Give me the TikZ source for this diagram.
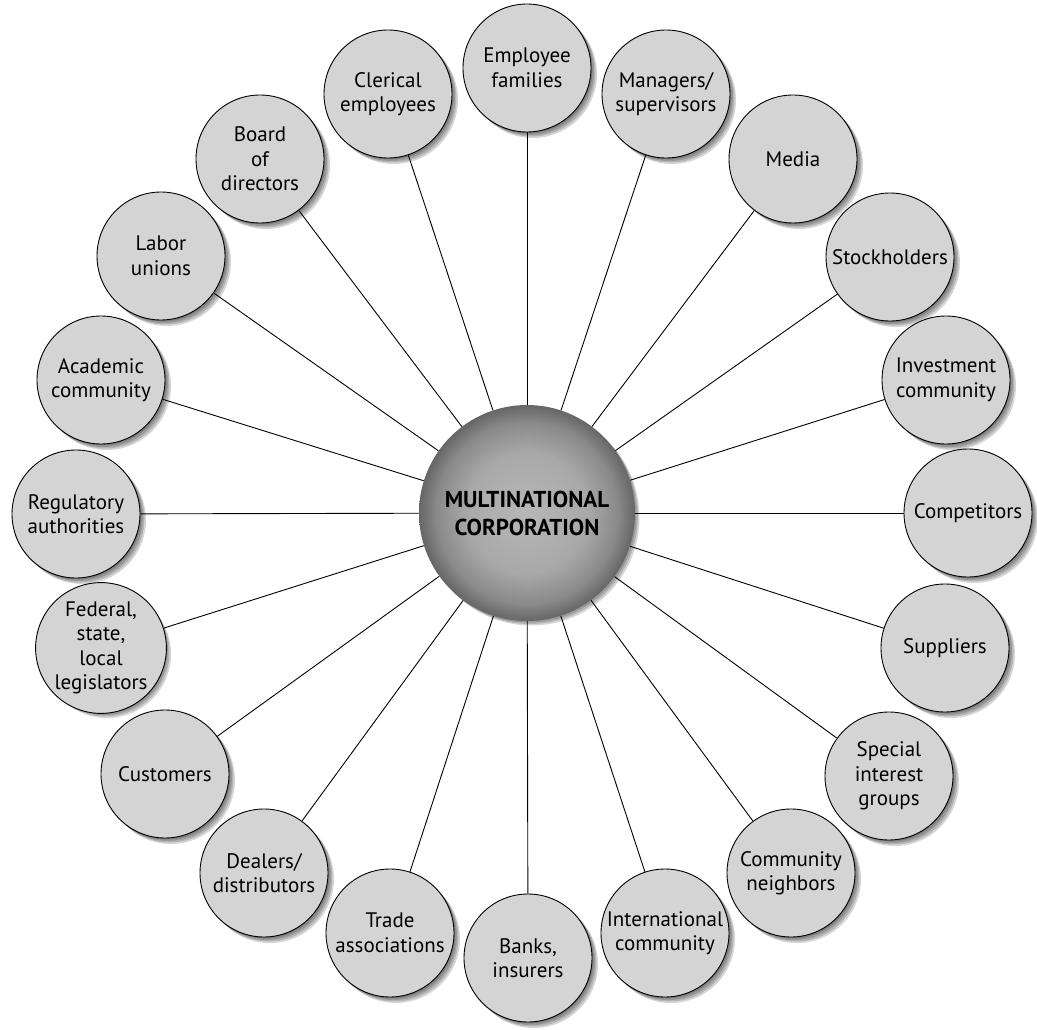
\documentclass[tikz,border=0pt]{standalone}
\usepackage{fontspec}
\setmainfont{PT Sans}
\usetikzlibrary{backgrounds}
\pgfdeclareradialshading{corpshade}{\pgfpoint{0bp}{0bp}}{color(0bp)=(black!28); color(14bp)=(black!34); color(21bp)=(black!46); color(25bp)=(black!60); color(50bp)=(black!60)}
\tikzset{
  stake/.style={circle, draw=black, line width=0.9pt, fill=black!17, minimum size=128pt,
    inner sep=0pt, align=center, font=\fontsize{21}{24.5}\selectfont},
  corp/.style={circle, minimum size=216pt, inner sep=0pt, shading=corpshade,
    align=center, font=\bfseries\fontsize{23}{28}\selectfont},
  link/.style={line width=0.9pt, draw=black},
  halo/.style={fill=black, opacity=0.16}
}
\begin{document}
\begin{tikzpicture}[x=1pt, y=-1pt]
\useasboundingbox (0,0) rectangle (1037,1030);
\node[corp] (mnc) at (527,513) {MULTINATIONAL\\CORPORATION};
\node[stake] (emp) at (527,68) {Employee\\families};
\node[stake] (man) at (666,94) {Managers/\\supervisors};
\node[stake] (med) at (793,159) {Media};
\node[stake] (sto) at (890,257) {Stockholders};
\node[stake] (inv) at (946,380) {Investment\\community};
\node[stake] (com) at (968,513) {Competitors};
\node[stake] (sup) at (945,648) {Suppliers};
\node[stake] (spe) at (889,776) {Special\\interest\\groups};
\node[stake] (nei) at (791,873) {Community\\neighbors};
\node[stake] (int) at (665,933) {International\\community};
\node[stake] (ban) at (528,958) {Banks,\\insurers};
\node[stake] (tra) at (390,933) {Trade\\associations};
\node[stake] (dea) at (264,873) {Dealers/\\distributors};
\node[stake] (cus) at (165,774) {Customers};
\node[stake] (fed) at (101,648) {Federal,\\state,\\local\\legislators};
\node[stake] (reg) at (76,514) {Regulatory\\authorities};
\node[stake] (aca) at (101,380) {Academic\\community};
\node[stake] (lab) at (161,256) {Labor\\unions};
\node[stake] (boa) at (260,159) {Board\\of\\directors};
\node[stake] (cle) at (388,94) {Clerical\\employees};
\begin{scope}[on background layer]
  \foreach \n in {emp,man,med,sto,inv,com,sup,spe,nei,int,ban,tra,dea,cus,fed,reg,aca,lab,boa,cle}{
    \foreach \s in {1.5,3,4.5,6}
      \fill[halo] ([shift={(\s,\s)}]\n.center) circle (64pt);
  }
  \foreach \s in {1.5,3,4.5}
    \fill[halo] ([shift={(\s,\s)}]mnc.center) circle (108pt);
  \foreach \n in {emp,man,med,sto,inv,com,sup,spe,nei,int,ban,tra,dea,cus,fed,reg,aca,lab,boa,cle}
    \draw[link] (mnc) -- (\n);
\end{scope}
\end{tikzpicture}
\end{document}
